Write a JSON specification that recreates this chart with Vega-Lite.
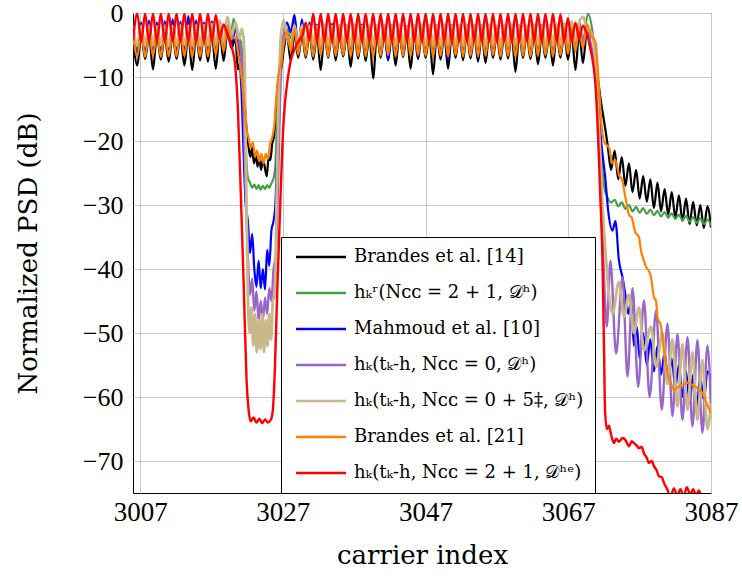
{
"$schema":"https://vega.github.io/schema/vega-lite/v6.json",
"width":578,"height":480,
"autosize":{"type":"none"},
"padding":{"left":133,"top":13,"right":31,"bottom":84},
"background":"white",
"config":{"view":{"stroke":"#000000","strokeWidth":1},"legend":{"labelFont":"DejaVu Serif","labelFontSize":18,"labelColor":"#000000"}},
"datasets":{
"a":[{"x":3006,"y":-3.8},{"x":3006.6,"y":-8.2},{"x":3007.15,"y":-3.5},{"x":3007.7,"y":-7.2},{"x":3008.25,"y":-3.6},{"x":3008.8,"y":-8.8},{"x":3009.35,"y":-3.5},{"x":3009.9,"y":-7.3},{"x":3010.45,"y":-3.6},{"x":3011,"y":-7.6},{"x":3011.55,"y":-3.5},{"x":3012.1,"y":-7.2},{"x":3012.65,"y":-3.6},{"x":3013.2,"y":-8.2},{"x":3013.75,"y":-3.5},{"x":3014.3,"y":-8.9},{"x":3014.85,"y":-3.5},{"x":3015.4,"y":-7.4},{"x":3015.95,"y":-3.4},{"x":3016.5,"y":-7.6},{"x":3017.05,"y":-3.3},{"x":3017.6,"y":-8.7},{"x":3018.15,"y":-3},{"x":3018.7,"y":-7.5},{"x":3019.25,"y":-2.8},{"x":3019.8,"y":-5.5},{"x":3020.35,"y":-4},{"x":3020.7,"y":-8.8},{"x":3021.1,"y":-7.5},{"x":3021.5,"y":-11},{"x":3021.9,"y":-18},{"x":3022.2,"y":-21},{"x":3022.45,"y":-22.5},{"x":3022.7,"y":-21},{"x":3022.95,"y":-23.5},{"x":3023.2,"y":-22},{"x":3023.45,"y":-24},{"x":3023.7,"y":-22.5},{"x":3023.95,"y":-24.5},{"x":3024.2,"y":-22.8},{"x":3024.45,"y":-24},{"x":3024.75,"y":-25.5},{"x":3025,"y":-22.5},{"x":3025.25,"y":-23},{"x":3025.5,"y":-20.5},{"x":3025.8,"y":-19},{"x":3026.1,"y":-14},{"x":3026.4,"y":-10},{"x":3026.8,"y":-8.5},{"x":3027.1,"y":-6},{"x":3027.58,"y":-3.5},{"x":3028.1,"y":-7.5},{"x":3028.63,"y":-3.2},{"x":3029.15,"y":-7},{"x":3029.68,"y":-3.3},{"x":3030.2,"y":-7},{"x":3030.73,"y":-3.3},{"x":3031.25,"y":-7.3},{"x":3031.78,"y":-3.4},{"x":3032.3,"y":-8.9},{"x":3032.83,"y":-3.3},{"x":3033.35,"y":-7},{"x":3033.88,"y":-3.2},{"x":3034.4,"y":-7.4},{"x":3034.93,"y":-3.4},{"x":3035.45,"y":-6.8},{"x":3035.98,"y":-3.3},{"x":3036.5,"y":-8.4},{"x":3037.03,"y":-3.5},{"x":3037.55,"y":-7.1},{"x":3038.08,"y":-3.3},{"x":3038.6,"y":-7.5},{"x":3039.13,"y":-3.4},{"x":3039.65,"y":-10.2},{"x":3040.18,"y":-3.3},{"x":3040.7,"y":-7},{"x":3041.23,"y":-3.2},{"x":3041.75,"y":-7.4},{"x":3042.28,"y":-3.4},{"x":3042.8,"y":-8.2},{"x":3043.33,"y":-3.3},{"x":3043.85,"y":-6.9},{"x":3044.38,"y":-3.4},{"x":3044.9,"y":-8.7},{"x":3045.43,"y":-3.3},{"x":3045.95,"y":-7.2},{"x":3046.48,"y":-3.2},{"x":3047,"y":-7},{"x":3047.53,"y":-3.4},{"x":3048.05,"y":-9.6},{"x":3048.58,"y":-3.3},{"x":3049.1,"y":-7.3},{"x":3049.63,"y":-3.4},{"x":3050.15,"y":-8.7},{"x":3050.68,"y":-3.3},{"x":3051.2,"y":-7},{"x":3051.73,"y":-3.2},{"x":3052.25,"y":-7.4},{"x":3052.78,"y":-3.3},{"x":3053.3,"y":-7.1},{"x":3053.83,"y":-3.4},{"x":3054.35,"y":-7.6},{"x":3054.88,"y":-3.3},{"x":3055.4,"y":-7.8},{"x":3055.93,"y":-3.2},{"x":3056.45,"y":-7},{"x":3056.98,"y":-3.4},{"x":3057.5,"y":-7.3},{"x":3058.03,"y":-3.3},{"x":3058.55,"y":-7.1},{"x":3059.08,"y":-3.4},{"x":3059.6,"y":-9.2},{"x":3060.13,"y":-3.3},{"x":3060.65,"y":-7},{"x":3061.18,"y":-3.2},{"x":3061.7,"y":-7.2},{"x":3062.23,"y":-3.3},{"x":3062.75,"y":-8},{"x":3063.28,"y":-3.4},{"x":3063.8,"y":-7},{"x":3064.33,"y":-3.3},{"x":3064.85,"y":-8.2},{"x":3065.38,"y":-3.2},{"x":3065.9,"y":-7},{"x":3066.43,"y":-3.3},{"x":3066.95,"y":-7.3},{"x":3067.48,"y":-3.2},{"x":3068,"y":-8.9},{"x":3068.53,"y":-3},{"x":3069.05,"y":-7.8},{"x":3069.6,"y":-3},{"x":3070.1,"y":-5.5},{"x":3070.6,"y":-7.5},{"x":3071.1,"y":-10},{"x":3071.6,"y":-14},{"x":3072.1,"y":-17.5},{"x":3072.5,"y":-20.5},{"x":3073,"y":-24.5},{"x":3073.5,"y":-21.5},{"x":3074,"y":-26},{"x":3074.5,"y":-22.5},{"x":3075,"y":-27},{"x":3075.5,"y":-23.5},{"x":3076,"y":-28},{"x":3076.5,"y":-24.5},{"x":3077,"y":-29},{"x":3077.5,"y":-25.5},{"x":3078,"y":-29.5},{"x":3078.5,"y":-26},{"x":3079,"y":-30.5},{"x":3079.5,"y":-26.5},{"x":3080,"y":-31},{"x":3080.5,"y":-27.5},{"x":3081,"y":-31.5},{"x":3081.5,"y":-28},{"x":3082,"y":-32},{"x":3082.5,"y":-28.5},{"x":3083,"y":-32.5},{"x":3083.5,"y":-29},{"x":3084,"y":-33},{"x":3084.5,"y":-29.5},{"x":3085,"y":-33.2},{"x":3085.5,"y":-30},{"x":3086,"y":-33.6},{"x":3086.5,"y":-30.2},{"x":3087,"y":-33.5}],
"b":[{"x":3006,"y":-2.8},{"x":3006.6,"y":-6},{"x":3007.15,"y":-2.5},{"x":3007.7,"y":-6.1},{"x":3008.25,"y":-2.5},{"x":3008.8,"y":-5.9},{"x":3009.35,"y":-2.6},{"x":3009.9,"y":-6},{"x":3010.45,"y":-2.5},{"x":3011,"y":-6.1},{"x":3011.55,"y":-2.5},{"x":3012.1,"y":-5.9},{"x":3012.65,"y":-2.4},{"x":3013.2,"y":-6},{"x":3013.75,"y":-2.5},{"x":3014.3,"y":-6.1},{"x":3014.85,"y":-2.4},{"x":3015.4,"y":-6},{"x":3015.95,"y":-2.3},{"x":3016.5,"y":-5.9},{"x":3017.05,"y":-2.2},{"x":3017.6,"y":-5.7},{"x":3018.15,"y":-2},{"x":3018.7,"y":-5},{"x":3019.25,"y":-1.8},{"x":3019.7,"y":-3.5},{"x":3020.1,"y":-0.9},{"x":3020.6,"y":-3.5},{"x":3021.1,"y":-4.5},{"x":3021.5,"y":-10},{"x":3021.85,"y":-22},{"x":3022.1,"y":-25.8},{"x":3022.4,"y":-26.5},{"x":3022.7,"y":-27.3},{"x":3023,"y":-26.8},{"x":3023.3,"y":-27.5},{"x":3023.6,"y":-26.9},{"x":3023.9,"y":-27.6},{"x":3024.2,"y":-27},{"x":3024.5,"y":-27.5},{"x":3024.8,"y":-26.9},{"x":3025.1,"y":-27.3},{"x":3025.4,"y":-26.6},{"x":3025.7,"y":-25.8},{"x":3025.95,"y":-24},{"x":3026.2,"y":-16},{"x":3026.5,"y":-9},{"x":3026.9,"y":-4.5},{"x":3027.2,"y":-3.5},{"x":3027.58,"y":-2.5},{"x":3028.1,"y":-4},{"x":3028.63,"y":-0.8},{"x":3029.15,"y":-5.5},{"x":3029.68,"y":-2},{"x":3030.2,"y":-6},{"x":3030.73,"y":-2.3},{"x":3031.25,"y":-6.1},{"x":3031.78,"y":-2.4},{"x":3032.3,"y":-5.9},{"x":3032.83,"y":-2.3},{"x":3033.35,"y":-6},{"x":3033.88,"y":-2.2},{"x":3034.4,"y":-6.1},{"x":3034.93,"y":-2.4},{"x":3035.45,"y":-6},{"x":3035.98,"y":-2.3},{"x":3036.5,"y":-5.9},{"x":3037.03,"y":-2.4},{"x":3037.55,"y":-6},{"x":3038.08,"y":-2.3},{"x":3038.6,"y":-6.1},{"x":3039.13,"y":-2.4},{"x":3039.65,"y":-6},{"x":3040.18,"y":-2.3},{"x":3040.7,"y":-5.9},{"x":3041.23,"y":-2.2},{"x":3041.75,"y":-6},{"x":3042.28,"y":-2.4},{"x":3042.8,"y":-6.1},{"x":3043.33,"y":-2.3},{"x":3043.85,"y":-6},{"x":3044.38,"y":-2.4},{"x":3044.9,"y":-5.9},{"x":3045.43,"y":-2.3},{"x":3045.95,"y":-6},{"x":3046.48,"y":-2.2},{"x":3047,"y":-6.1},{"x":3047.53,"y":-2.4},{"x":3048.05,"y":-6},{"x":3048.58,"y":-2.3},{"x":3049.1,"y":-5.9},{"x":3049.63,"y":-2.4},{"x":3050.15,"y":-6},{"x":3050.68,"y":-2.3},{"x":3051.2,"y":-6.1},{"x":3051.73,"y":-2.2},{"x":3052.25,"y":-6},{"x":3052.78,"y":-2.3},{"x":3053.3,"y":-5.9},{"x":3053.83,"y":-2.4},{"x":3054.35,"y":-6},{"x":3054.88,"y":-2.3},{"x":3055.4,"y":-6.1},{"x":3055.93,"y":-2.2},{"x":3056.45,"y":-6},{"x":3056.98,"y":-2.4},{"x":3057.5,"y":-5.9},{"x":3058.03,"y":-2.3},{"x":3058.55,"y":-6},{"x":3059.08,"y":-2.4},{"x":3059.6,"y":-6.1},{"x":3060.13,"y":-2.3},{"x":3060.65,"y":-6},{"x":3061.18,"y":-2.2},{"x":3061.7,"y":-5.9},{"x":3062.23,"y":-2.3},{"x":3062.75,"y":-6},{"x":3063.28,"y":-2.4},{"x":3063.8,"y":-6.1},{"x":3064.33,"y":-2.3},{"x":3064.85,"y":-6},{"x":3065.38,"y":-2.2},{"x":3065.9,"y":-5.9},{"x":3066.43,"y":-2.1},{"x":3066.95,"y":-5.8},{"x":3067.48,"y":-1.9},{"x":3068,"y":-5.5},{"x":3068.53,"y":-1.5},{"x":3069.05,"y":-4.5},{"x":3069.75,"y":-0.1},{"x":3070.4,"y":-3},{"x":3071,"y":-10},{"x":3071.5,"y":-20},{"x":3072,"y":-27},{"x":3072.5,"y":-28.8},{"x":3073,"y":-29.6},{"x":3073.5,"y":-29.2},{"x":3074,"y":-30.2},{"x":3074.5,"y":-29.6},{"x":3075,"y":-30.6},{"x":3075.5,"y":-30},{"x":3076,"y":-31},{"x":3076.5,"y":-30.3},{"x":3077,"y":-31.2},{"x":3077.5,"y":-30.5},{"x":3078,"y":-31.4},{"x":3078.5,"y":-30.7},{"x":3079,"y":-31.6},{"x":3079.5,"y":-30.9},{"x":3080,"y":-31.8},{"x":3080.5,"y":-31.1},{"x":3081,"y":-32},{"x":3081.5,"y":-31.3},{"x":3082,"y":-32.2},{"x":3082.5,"y":-31.5},{"x":3083,"y":-32.4},{"x":3083.5,"y":-31.7},{"x":3084,"y":-32.6},{"x":3084.5,"y":-31.9},{"x":3085,"y":-32.8},{"x":3085.5,"y":-32.1},{"x":3086,"y":-33},{"x":3086.5,"y":-32.3},{"x":3087,"y":-33.2}],
"c":[{"x":3006,"y":-1.8},{"x":3006.6,"y":-6.5},{"x":3007.15,"y":-1.5},{"x":3007.7,"y":-6.4},{"x":3008.25,"y":-1.2},{"x":3008.8,"y":-6.6},{"x":3009.35,"y":-1.5},{"x":3009.9,"y":-6.5},{"x":3010.45,"y":-1.3},{"x":3011,"y":-6.2},{"x":3011.55,"y":-1},{"x":3012.1,"y":-6.5},{"x":3012.65,"y":-1.4},{"x":3013.2,"y":-6.4},{"x":3013.75,"y":-0.5},{"x":3014.3,"y":-6.6},{"x":3014.85,"y":-1.2},{"x":3015.4,"y":-6.5},{"x":3015.95,"y":-1.5},{"x":3016.5,"y":-6.3},{"x":3017.05,"y":-1.3},{"x":3017.6,"y":-6.2},{"x":3018.15,"y":-1.5},{"x":3018.7,"y":-5.5},{"x":3019.25,"y":-1.2},{"x":3019.8,"y":-5},{"x":3020.35,"y":-2.5},{"x":3020.85,"y":-6},{"x":3021.2,"y":-12},{"x":3021.5,"y":-22},{"x":3021.8,"y":-30},{"x":3022.1,"y":-32.5},{"x":3022.4,"y":-37.5},{"x":3022.7,"y":-34.5},{"x":3023,"y":-40},{"x":3023.3,"y":-42.8},{"x":3023.6,"y":-38.7},{"x":3023.9,"y":-43},{"x":3024.2,"y":-40},{"x":3024.5,"y":-43.2},{"x":3024.8,"y":-37},{"x":3025.1,"y":-39.5},{"x":3025.4,"y":-34},{"x":3025.7,"y":-32.5},{"x":3025.95,"y":-30},{"x":3026.3,"y":-18},{"x":3026.6,"y":-10},{"x":3027,"y":-5},{"x":3027.58,"y":-1.5},{"x":3028.1,"y":-3},{"x":3028.63,"y":-0.3},{"x":3029.15,"y":-5.5},{"x":3029.68,"y":-1},{"x":3030.2,"y":-6.5},{"x":3030.73,"y":-1.5},{"x":3031.25,"y":-6.6},{"x":3031.78,"y":-1.8},{"x":3032.3,"y":-6.4},{"x":3032.83,"y":-2},{"x":3033.35,"y":-6.7},{"x":3033.88,"y":-1.7},{"x":3034.4,"y":-6.5},{"x":3034.93,"y":-2.2},{"x":3035.45,"y":-6.6},{"x":3035.98,"y":-1.9},{"x":3036.5,"y":-6.4},{"x":3037.03,"y":-2.3},{"x":3037.55,"y":-6.8},{"x":3038.08,"y":-1.8},{"x":3038.6,"y":-6.5},{"x":3039.13,"y":-2.1},{"x":3039.65,"y":-6.7},{"x":3040.18,"y":-1.9},{"x":3040.7,"y":-6.6},{"x":3041.23,"y":-2.4},{"x":3041.75,"y":-7.3},{"x":3042.28,"y":-1.9},{"x":3042.8,"y":-6.5},{"x":3043.33,"y":-2.2},{"x":3043.85,"y":-6.6},{"x":3044.38,"y":-2},{"x":3044.9,"y":-6.4},{"x":3045.43,"y":-2.3},{"x":3045.95,"y":-6.8},{"x":3046.48,"y":-1.8},{"x":3047,"y":-6.5},{"x":3047.53,"y":-2.1},{"x":3048.05,"y":-6.7},{"x":3048.58,"y":-1.9},{"x":3049.1,"y":-6.6},{"x":3049.63,"y":-2.2},{"x":3050.15,"y":-7.2},{"x":3050.68,"y":-1.9},{"x":3051.2,"y":-6.5},{"x":3051.73,"y":-2.3},{"x":3052.25,"y":-6.7},{"x":3052.78,"y":-1.8},{"x":3053.3,"y":-6.4},{"x":3053.83,"y":-2.1},{"x":3054.35,"y":-7},{"x":3054.88,"y":-1.9},{"x":3055.4,"y":-6.6},{"x":3055.93,"y":-2.2},{"x":3056.45,"y":-6.5},{"x":3056.98,"y":-2},{"x":3057.5,"y":-6.8},{"x":3058.03,"y":-2.3},{"x":3058.55,"y":-6.5},{"x":3059.08,"y":-1.8},{"x":3059.6,"y":-6.6},{"x":3060.13,"y":-2.2},{"x":3060.65,"y":-6.4},{"x":3061.18,"y":-2},{"x":3061.7,"y":-6.7},{"x":3062.23,"y":-2.3},{"x":3062.75,"y":-6.5},{"x":3063.28,"y":-1.9},{"x":3063.8,"y":-6.6},{"x":3064.33,"y":-2.1},{"x":3064.85,"y":-6.8},{"x":3065.38,"y":-1.9},{"x":3065.9,"y":-6.5},{"x":3066.43,"y":-1.8},{"x":3066.95,"y":-6.3},{"x":3067.48,"y":-1.6},{"x":3068,"y":-6},{"x":3068.53,"y":-1.5},{"x":3069.05,"y":-5.5},{"x":3069.6,"y":-2},{"x":3070.1,"y":-5},{"x":3070.6,"y":-8},{"x":3071.1,"y":-13},{"x":3071.6,"y":-20},{"x":3072.2,"y":-26},{"x":3072.6,"y":-31},{"x":3073.2,"y":-34},{"x":3073.6,"y":-32.5},{"x":3074.1,"y":-38.7},{"x":3074.6,"y":-41.3},{"x":3075,"y":-44},{"x":3075.4,"y":-47},{"x":3075.8,"y":-45},{"x":3076.2,"y":-52},{"x":3076.6,"y":-49},{"x":3077,"y":-54},{"x":3077.5,"y":-50},{"x":3078,"y":-55},{"x":3078.5,"y":-51},{"x":3079,"y":-56},{"x":3079.5,"y":-52},{"x":3080,"y":-56.5},{"x":3080.5,"y":-53},{"x":3081,"y":-57.5},{"x":3081.5,"y":-54},{"x":3082,"y":-58.5},{"x":3082.5,"y":-55},{"x":3083,"y":-60},{"x":3083.5,"y":-56},{"x":3084,"y":-61},{"x":3084.5,"y":-56.5},{"x":3085,"y":-61.5},{"x":3085.5,"y":-57},{"x":3086,"y":-60.5},{"x":3086.5,"y":-56},{"x":3087,"y":-57}],
"d":[{"x":3006,"y":-2},{"x":3006.6,"y":-5.2},{"x":3007.15,"y":-1.9},{"x":3007.7,"y":-5.3},{"x":3008.25,"y":-1.8},{"x":3008.8,"y":-5.2},{"x":3009.35,"y":-2},{"x":3009.9,"y":-5.1},{"x":3010.45,"y":-1.8},{"x":3011,"y":-5.3},{"x":3011.55,"y":-1.9},{"x":3012.1,"y":-5.2},{"x":3012.65,"y":-1.8},{"x":3013.2,"y":-5.1},{"x":3013.75,"y":-1.9},{"x":3014.3,"y":-5.3},{"x":3014.85,"y":-1.8},{"x":3015.4,"y":-5.2},{"x":3015.95,"y":-1.9},{"x":3016.5,"y":-5.1},{"x":3017.05,"y":-1.7},{"x":3017.6,"y":-5.2},{"x":3018.15,"y":-1.5},{"x":3018.7,"y":-5},{"x":3019.25,"y":-1},{"x":3019.8,"y":-4},{"x":3020.35,"y":-1.5},{"x":3020.85,"y":-4.5},{"x":3021.2,"y":-7},{"x":3021.5,"y":-15},{"x":3021.8,"y":-28},{"x":3022.1,"y":-38},{"x":3022.4,"y":-44},{"x":3022.7,"y":-41.5},{"x":3023,"y":-46.5},{"x":3023.3,"y":-43.5},{"x":3023.6,"y":-48},{"x":3023.9,"y":-45},{"x":3024.2,"y":-48},{"x":3024.5,"y":-44.5},{"x":3024.8,"y":-47},{"x":3025.1,"y":-43},{"x":3025.4,"y":-45},{"x":3025.7,"y":-40},{"x":3026,"y":-38},{"x":3026.3,"y":-28},{"x":3026.6,"y":-14},{"x":3026.9,"y":-6},{"x":3027.3,"y":-2.2},{"x":3027.8,"y":-4.5},{"x":3028.1,"y":-5},{"x":3028.63,"y":-1.8},{"x":3029.15,"y":-5.3},{"x":3029.68,"y":-1.8},{"x":3030.2,"y":-5.3},{"x":3030.73,"y":-1.9},{"x":3031.25,"y":-5.2},{"x":3031.78,"y":-2},{"x":3032.3,"y":-5.4},{"x":3032.83,"y":-1.8},{"x":3033.35,"y":-5.3},{"x":3033.88,"y":-2.1},{"x":3034.4,"y":-5.2},{"x":3034.93,"y":-1.9},{"x":3035.45,"y":-5.4},{"x":3035.98,"y":-2},{"x":3036.5,"y":-5.3},{"x":3037.03,"y":-1.8},{"x":3037.55,"y":-5.2},{"x":3038.08,"y":-2},{"x":3038.6,"y":-5.4},{"x":3039.13,"y":-1.9},{"x":3039.65,"y":-5.3},{"x":3040.18,"y":-2.1},{"x":3040.7,"y":-5.2},{"x":3041.23,"y":-1.9},{"x":3041.75,"y":-5.4},{"x":3042.28,"y":-2},{"x":3042.8,"y":-5.3},{"x":3043.33,"y":-1.8},{"x":3043.85,"y":-5.2},{"x":3044.38,"y":-2},{"x":3044.9,"y":-5.4},{"x":3045.43,"y":-1.9},{"x":3045.95,"y":-5.3},{"x":3046.48,"y":-2.1},{"x":3047,"y":-5.2},{"x":3047.53,"y":-1.9},{"x":3048.05,"y":-5.4},{"x":3048.58,"y":-2},{"x":3049.1,"y":-5.3},{"x":3049.63,"y":-1.8},{"x":3050.15,"y":-5.2},{"x":3050.68,"y":-2},{"x":3051.2,"y":-5.4},{"x":3051.73,"y":-1.9},{"x":3052.25,"y":-5.3},{"x":3052.78,"y":-2.1},{"x":3053.3,"y":-5.2},{"x":3053.83,"y":-1.9},{"x":3054.35,"y":-5.4},{"x":3054.88,"y":-2},{"x":3055.4,"y":-5.3},{"x":3055.93,"y":-1.8},{"x":3056.45,"y":-5.2},{"x":3056.98,"y":-2},{"x":3057.5,"y":-5.4},{"x":3058.03,"y":-1.9},{"x":3058.55,"y":-5.3},{"x":3059.08,"y":-2.1},{"x":3059.6,"y":-5.2},{"x":3060.13,"y":-1.9},{"x":3060.65,"y":-5.4},{"x":3061.18,"y":-2},{"x":3061.7,"y":-5.3},{"x":3062.23,"y":-1.8},{"x":3062.75,"y":-5.2},{"x":3063.28,"y":-2},{"x":3063.8,"y":-5.4},{"x":3064.33,"y":-1.9},{"x":3064.85,"y":-5.3},{"x":3065.38,"y":-1.8},{"x":3065.9,"y":-5.2},{"x":3066.43,"y":-1.7},{"x":3066.95,"y":-5.2},{"x":3067.48,"y":-1.6},{"x":3068,"y":-5.1},{"x":3068.53,"y":-1.5},{"x":3069.05,"y":-5},{"x":3069.6,"y":-1.8},{"x":3070.1,"y":-4.5},{"x":3070.6,"y":-8},{"x":3071.1,"y":-15},{"x":3071.5,"y":-25},{"x":3071.8,"y":-35},{"x":3072.1,"y":-44},{"x":3072.4,"y":-49},{"x":3072.9,"y":-38.7},{"x":3073.7,"y":-53.2},{"x":3074.6,"y":-41.3},{"x":3075.3,"y":-56.8},{"x":3076,"y":-43},{"x":3076.8,"y":-58.4},{"x":3077.6,"y":-44.9},{"x":3078.4,"y":-60},{"x":3079.3,"y":-46.5},{"x":3080.1,"y":-62},{"x":3080.9,"y":-48.5},{"x":3081.6,"y":-63},{"x":3082.3,"y":-50.1},{"x":3083,"y":-63.6},{"x":3083.7,"y":-50.6},{"x":3084.4,"y":-64.6},{"x":3085.1,"y":-51.1},{"x":3085.8,"y":-65.6},{"x":3086.5,"y":-52},{"x":3087,"y":-62}],
"e":[{"x":3006,"y":-2.2},{"x":3006.6,"y":-5},{"x":3007.15,"y":-2.1},{"x":3007.7,"y":-5},{"x":3008.25,"y":-2.2},{"x":3008.8,"y":-4.9},{"x":3009.35,"y":-2.1},{"x":3009.9,"y":-5},{"x":3010.45,"y":-2.2},{"x":3011,"y":-5.1},{"x":3011.55,"y":-2.1},{"x":3012.1,"y":-5},{"x":3012.65,"y":-2},{"x":3013.2,"y":-4.9},{"x":3013.75,"y":-2.1},{"x":3014.3,"y":-5},{"x":3014.85,"y":-2},{"x":3015.4,"y":-5.1},{"x":3015.95,"y":-1.9},{"x":3016.5,"y":-5},{"x":3017.05,"y":-1.7},{"x":3017.6,"y":-4.8},{"x":3018.15,"y":-1.2},{"x":3018.7,"y":-4.5},{"x":3019.25,"y":-0.6},{"x":3019.8,"y":-3.5},{"x":3020.35,"y":-1.5},{"x":3020.85,"y":-4},{"x":3021.25,"y":-2.5},{"x":3021.6,"y":-6},{"x":3021.85,"y":-25},{"x":3022.1,"y":-44},{"x":3022.35,"y":-50},{"x":3022.6,"y":-46},{"x":3022.85,"y":-52},{"x":3023.1,"y":-47},{"x":3023.35,"y":-53},{"x":3023.6,"y":-48},{"x":3023.85,"y":-52.5},{"x":3024.1,"y":-47},{"x":3024.35,"y":-53},{"x":3024.6,"y":-48},{"x":3024.85,"y":-52},{"x":3025.1,"y":-47},{"x":3025.35,"y":-51},{"x":3025.6,"y":-45},{"x":3025.9,"y":-44},{"x":3026.1,"y":-30},{"x":3026.4,"y":-14},{"x":3026.7,"y":-4},{"x":3027.1,"y":-1.1},{"x":3027.58,"y":-3.5},{"x":3028.1,"y":-5},{"x":3028.63,"y":-2},{"x":3029.15,"y":-5},{"x":3029.68,"y":-2},{"x":3030.2,"y":-5},{"x":3030.73,"y":-2},{"x":3031.25,"y":-4.9},{"x":3031.78,"y":-2.1},{"x":3032.3,"y":-5.1},{"x":3032.83,"y":-1.9},{"x":3033.35,"y":-5},{"x":3033.88,"y":-2},{"x":3034.4,"y":-4.9},{"x":3034.93,"y":-2.1},{"x":3035.45,"y":-5.1},{"x":3035.98,"y":-2},{"x":3036.5,"y":-5},{"x":3037.03,"y":-1.9},{"x":3037.55,"y":-4.9},{"x":3038.08,"y":-2.1},{"x":3038.6,"y":-5.1},{"x":3039.13,"y":-2},{"x":3039.65,"y":-5},{"x":3040.18,"y":-1.9},{"x":3040.7,"y":-4.9},{"x":3041.23,"y":-2.1},{"x":3041.75,"y":-5.1},{"x":3042.28,"y":-2},{"x":3042.8,"y":-5},{"x":3043.33,"y":-1.9},{"x":3043.85,"y":-4.9},{"x":3044.38,"y":-2.1},{"x":3044.9,"y":-5.1},{"x":3045.43,"y":-2},{"x":3045.95,"y":-5},{"x":3046.48,"y":-1.9},{"x":3047,"y":-4.9},{"x":3047.53,"y":-2.1},{"x":3048.05,"y":-5.1},{"x":3048.58,"y":-2},{"x":3049.1,"y":-5},{"x":3049.63,"y":-1.9},{"x":3050.15,"y":-4.9},{"x":3050.68,"y":-2.1},{"x":3051.2,"y":-5.1},{"x":3051.73,"y":-2},{"x":3052.25,"y":-5},{"x":3052.78,"y":-1.9},{"x":3053.3,"y":-4.9},{"x":3053.83,"y":-2.1},{"x":3054.35,"y":-5.1},{"x":3054.88,"y":-2},{"x":3055.4,"y":-5},{"x":3055.93,"y":-1.9},{"x":3056.45,"y":-4.9},{"x":3056.98,"y":-2.1},{"x":3057.5,"y":-5.1},{"x":3058.03,"y":-2},{"x":3058.55,"y":-5},{"x":3059.08,"y":-1.9},{"x":3059.6,"y":-4.9},{"x":3060.13,"y":-2.1},{"x":3060.65,"y":-5.1},{"x":3061.18,"y":-2},{"x":3061.7,"y":-5},{"x":3062.23,"y":-1.9},{"x":3062.75,"y":-4.9},{"x":3063.28,"y":-2.1},{"x":3063.8,"y":-5.1},{"x":3064.33,"y":-2},{"x":3064.85,"y":-5},{"x":3065.38,"y":-1.8},{"x":3065.9,"y":-4.8},{"x":3066.43,"y":-1.6},{"x":3066.95,"y":-4.6},{"x":3067.48,"y":-1.3},{"x":3068,"y":-4.3},{"x":3068.6,"y":-1.2},{"x":3069.1,"y":-0.6},{"x":3069.6,"y":-2.5},{"x":3070.2,"y":-3},{"x":3070.7,"y":-6},{"x":3071,"y":-11.5},{"x":3071.4,"y":-20},{"x":3071.8,"y":-30},{"x":3072.2,"y":-37},{"x":3072.7,"y":-44},{"x":3073.2,"y":-47},{"x":3074.1,"y":-42},{"x":3074.8,"y":-47.5},{"x":3075.5,"y":-44},{"x":3076.2,"y":-50},{"x":3076.9,"y":-46},{"x":3077.6,"y":-52.7},{"x":3078.6,"y":-49},{"x":3079.3,"y":-55.3},{"x":3080.2,"y":-50},{"x":3080.9,"y":-58},{"x":3081.6,"y":-51},{"x":3082.3,"y":-61.5},{"x":3083,"y":-51.7},{"x":3083.7,"y":-62},{"x":3084.4,"y":-53},{"x":3085.1,"y":-63.6},{"x":3085.8,"y":-54.2},{"x":3086.5,"y":-65},{"x":3087,"y":-61}],
"f":[{"x":3006,"y":-3.2},{"x":3006.6,"y":-6.8},{"x":3007.15,"y":-3},{"x":3007.7,"y":-6.9},{"x":3008.25,"y":-3.1},{"x":3008.8,"y":-6.7},{"x":3009.35,"y":-3},{"x":3009.9,"y":-6.9},{"x":3010.45,"y":-3},{"x":3011,"y":-6.8},{"x":3011.55,"y":-3.1},{"x":3012.1,"y":-6.8},{"x":3012.65,"y":-3},{"x":3013.2,"y":-6.7},{"x":3013.75,"y":-3},{"x":3014.3,"y":-6.9},{"x":3014.85,"y":-3},{"x":3015.4,"y":-6.8},{"x":3015.95,"y":-2.9},{"x":3016.5,"y":-6.8},{"x":3017.05,"y":-2.8},{"x":3017.6,"y":-6.5},{"x":3018.15,"y":-2.5},{"x":3018.7,"y":-6},{"x":3019.25,"y":-2.2},{"x":3019.8,"y":-4},{"x":3020.3,"y":-3.8},{"x":3020.7,"y":-6},{"x":3021.1,"y":-9},{"x":3021.5,"y":-13},{"x":3021.9,"y":-18},{"x":3022.2,"y":-19.5},{"x":3022.5,"y":-21},{"x":3022.8,"y":-20.2},{"x":3023.1,"y":-22.5},{"x":3023.4,"y":-21.5},{"x":3023.7,"y":-23.2},{"x":3024,"y":-22},{"x":3024.3,"y":-23.5},{"x":3024.6,"y":-22},{"x":3024.9,"y":-22.8},{"x":3025.2,"y":-20.5},{"x":3025.5,"y":-19.5},{"x":3025.8,"y":-17.5},{"x":3026.1,"y":-13},{"x":3026.4,"y":-9.5},{"x":3026.8,"y":-7.5},{"x":3027.1,"y":-5},{"x":3027.58,"y":-2.8},{"x":3028.1,"y":-6},{"x":3028.63,"y":-2.5},{"x":3029.15,"y":-6.5},{"x":3029.68,"y":-2.5},{"x":3030.2,"y":-6.7},{"x":3030.73,"y":-2.6},{"x":3031.25,"y":-6.8},{"x":3031.78,"y":-2.5},{"x":3032.3,"y":-6.6},{"x":3032.83,"y":-2.7},{"x":3033.35,"y":-6.8},{"x":3033.88,"y":-2.6},{"x":3034.4,"y":-6.7},{"x":3034.93,"y":-2.5},{"x":3035.45,"y":-6.6},{"x":3035.98,"y":-2.7},{"x":3036.5,"y":-6.8},{"x":3037.03,"y":-2.6},{"x":3037.55,"y":-6.7},{"x":3038.08,"y":-2.5},{"x":3038.6,"y":-6.8},{"x":3039.13,"y":-2.6},{"x":3039.65,"y":-6.9},{"x":3040.18,"y":-2.7},{"x":3040.7,"y":-6.7},{"x":3041.23,"y":-2.5},{"x":3041.75,"y":-6.6},{"x":3042.28,"y":-2.6},{"x":3042.8,"y":-6.8},{"x":3043.33,"y":-2.7},{"x":3043.85,"y":-6.7},{"x":3044.38,"y":-2.5},{"x":3044.9,"y":-6.8},{"x":3045.43,"y":-2.6},{"x":3045.95,"y":-6.6},{"x":3046.48,"y":-2.7},{"x":3047,"y":-6.7},{"x":3047.53,"y":-2.5},{"x":3048.05,"y":-6.9},{"x":3048.58,"y":-2.6},{"x":3049.1,"y":-6.7},{"x":3049.63,"y":-2.7},{"x":3050.15,"y":-6.8},{"x":3050.68,"y":-2.5},{"x":3051.2,"y":-6.6},{"x":3051.73,"y":-2.6},{"x":3052.25,"y":-6.8},{"x":3052.78,"y":-2.7},{"x":3053.3,"y":-6.7},{"x":3053.83,"y":-2.5},{"x":3054.35,"y":-6.8},{"x":3054.88,"y":-2.6},{"x":3055.4,"y":-6.7},{"x":3055.93,"y":-2.7},{"x":3056.45,"y":-6.6},{"x":3056.98,"y":-2.5},{"x":3057.5,"y":-6.8},{"x":3058.03,"y":-2.6},{"x":3058.55,"y":-6.7},{"x":3059.08,"y":-2.7},{"x":3059.6,"y":-6.9},{"x":3060.13,"y":-2.5},{"x":3060.65,"y":-6.7},{"x":3061.18,"y":-2.6},{"x":3061.7,"y":-6.8},{"x":3062.23,"y":-2.7},{"x":3062.75,"y":-6.7},{"x":3063.28,"y":-2.5},{"x":3063.8,"y":-6.6},{"x":3064.33,"y":-2.6},{"x":3064.85,"y":-6.8},{"x":3065.38,"y":-2.5},{"x":3065.9,"y":-6.6},{"x":3066.43,"y":-2.4},{"x":3066.95,"y":-6.4},{"x":3067.48,"y":-2.3},{"x":3068,"y":-6},{"x":3068.53,"y":-2.2},{"x":3069.05,"y":-5.5},{"x":3069.6,"y":-1.7},{"x":3070.2,"y":-3.5},{"x":3070.8,"y":-4.5},{"x":3071.3,"y":-11.5},{"x":3071.7,"y":-18},{"x":3072.1,"y":-20.3},{"x":3072.7,"y":-21},{"x":3073.2,"y":-23.5},{"x":3073.6,"y":-23},{"x":3074.1,"y":-25.3},{"x":3074.6,"y":-26.3},{"x":3075,"y":-28.8},{"x":3075.5,"y":-31.5},{"x":3075.9,"y":-32},{"x":3076.4,"y":-34.3},{"x":3076.9,"y":-35},{"x":3077.2,"y":-37.2},{"x":3077.6,"y":-38.7},{"x":3077.9,"y":-39.7},{"x":3078.3,"y":-40.3},{"x":3078.6,"y":-41.3},{"x":3079,"y":-44.4},{"x":3079.3,"y":-45},{"x":3079.5,"y":-47.5},{"x":3080,"y":-49},{"x":3080.4,"y":-52.7},{"x":3080.9,"y":-56.3},{"x":3081.4,"y":-57.9},{"x":3081.8,"y":-58.9},{"x":3082.4,"y":-58.4},{"x":3083,"y":-58.1},{"x":3083.7,"y":-57.8},{"x":3084.4,"y":-58.1},{"x":3085.1,"y":-58.6},{"x":3085.8,"y":-59.4},{"x":3086.4,"y":-61},{"x":3087,"y":-62.5}],
"g":[{"x":3006,"y":-4.3},{"x":3006.6,"y":-0.1},{"x":3007.15,"y":-4.5},{"x":3007.7,"y":-0.1},{"x":3008.25,"y":-4.5},{"x":3008.8,"y":-0.1},{"x":3009.35,"y":-4.5},{"x":3009.9,"y":-0.1},{"x":3010.45,"y":-4.5},{"x":3011,"y":-0.1},{"x":3011.55,"y":-4.5},{"x":3012.1,"y":-0.1},{"x":3012.65,"y":-4.5},{"x":3013.2,"y":-0.1},{"x":3013.75,"y":-4.5},{"x":3014.3,"y":-0.1},{"x":3014.85,"y":-4.5},{"x":3015.4,"y":-0.1},{"x":3015.95,"y":-4.5},{"x":3016.5,"y":-0.1},{"x":3017.05,"y":-4.4},{"x":3017.6,"y":-0.3},{"x":3018.15,"y":-4},{"x":3018.7,"y":-1.8},{"x":3019.25,"y":-3.5},{"x":3019.8,"y":-5.2},{"x":3020.3,"y":-8},{"x":3020.7,"y":-15},{"x":3021.1,"y":-28},{"x":3021.5,"y":-42},{"x":3021.9,"y":-57},{"x":3022.2,"y":-62},{"x":3022.5,"y":-63.8},{"x":3022.9,"y":-63.2},{"x":3023.3,"y":-64},{"x":3023.7,"y":-63.4},{"x":3024.1,"y":-64.1},{"x":3024.5,"y":-63.5},{"x":3024.9,"y":-64},{"x":3025.3,"y":-63.6},{"x":3025.6,"y":-62},{"x":3025.9,"y":-55},{"x":3026.2,"y":-44},{"x":3026.6,"y":-31},{"x":3027,"y":-19},{"x":3027.3,"y":-14},{"x":3027.6,"y":-11},{"x":3028.1,"y":-7.5},{"x":3028.7,"y":-5.5},{"x":3029.3,"y":-4.2},{"x":3029.8,"y":-3.3},{"x":3030.2,"y":-1.5},{"x":3030.73,"y":-4.3},{"x":3031.25,"y":-0.1},{"x":3031.78,"y":-4.5},{"x":3032.3,"y":-0.1},{"x":3032.83,"y":-4.5},{"x":3033.35,"y":-0.1},{"x":3033.88,"y":-4.5},{"x":3034.4,"y":-0.1},{"x":3034.93,"y":-4.5},{"x":3035.45,"y":-0.1},{"x":3035.98,"y":-4.5},{"x":3036.5,"y":-0.1},{"x":3037.03,"y":-4.5},{"x":3037.55,"y":-0.1},{"x":3038.08,"y":-4.5},{"x":3038.6,"y":-0.1},{"x":3039.13,"y":-4.5},{"x":3039.65,"y":-0.1},{"x":3040.18,"y":-4.5},{"x":3040.7,"y":-0.1},{"x":3041.23,"y":-4.5},{"x":3041.75,"y":-0.1},{"x":3042.28,"y":-4.5},{"x":3042.8,"y":-0.1},{"x":3043.33,"y":-4.5},{"x":3043.85,"y":-0.1},{"x":3044.38,"y":-4.5},{"x":3044.9,"y":-0.1},{"x":3045.43,"y":-4.5},{"x":3045.95,"y":-0.1},{"x":3046.48,"y":-4.5},{"x":3047,"y":-0.1},{"x":3047.53,"y":-4.5},{"x":3048.05,"y":-0.1},{"x":3048.58,"y":-4.5},{"x":3049.1,"y":-0.1},{"x":3049.63,"y":-4.5},{"x":3050.15,"y":-0.1},{"x":3050.68,"y":-4.5},{"x":3051.2,"y":-0.1},{"x":3051.73,"y":-4.5},{"x":3052.25,"y":-0.1},{"x":3052.78,"y":-4.5},{"x":3053.3,"y":-0.1},{"x":3053.83,"y":-4.5},{"x":3054.35,"y":-0.1},{"x":3054.88,"y":-4.5},{"x":3055.4,"y":-0.1},{"x":3055.93,"y":-4.5},{"x":3056.45,"y":-0.1},{"x":3056.98,"y":-4.5},{"x":3057.5,"y":-0.1},{"x":3058.03,"y":-4.5},{"x":3058.55,"y":-0.1},{"x":3059.08,"y":-4.5},{"x":3059.6,"y":-0.1},{"x":3060.13,"y":-4.5},{"x":3060.65,"y":-0.1},{"x":3061.18,"y":-4.5},{"x":3061.7,"y":-0.1},{"x":3062.23,"y":-4.5},{"x":3062.75,"y":-0.1},{"x":3063.28,"y":-4.5},{"x":3063.8,"y":-0.1},{"x":3064.33,"y":-4.5},{"x":3064.85,"y":-0.1},{"x":3065.38,"y":-4.5},{"x":3065.9,"y":-0.2},{"x":3066.43,"y":-4.5},{"x":3066.95,"y":-0.8},{"x":3067.48,"y":-4.5},{"x":3068,"y":-1.5},{"x":3068.53,"y":-4},{"x":3069.05,"y":-2},{"x":3069.6,"y":-3.2},{"x":3070.1,"y":-5.5},{"x":3070.5,"y":-8},{"x":3070.8,"y":-11},{"x":3071.2,"y":-20},{"x":3071.5,"y":-29},{"x":3071.8,"y":-39},{"x":3072,"y":-52},{"x":3072.15,"y":-62},{"x":3072.4,"y":-65},{"x":3072.7,"y":-64.5},{"x":3072.9,"y":-65.4},{"x":3073.4,"y":-67.2},{"x":3073.7,"y":-66.5},{"x":3074.1,"y":-67},{"x":3074.6,"y":-66.4},{"x":3075,"y":-66.7},{"x":3075.5,"y":-67.7},{"x":3075.9,"y":-66.9},{"x":3076.2,"y":-67.2},{"x":3076.6,"y":-67.6},{"x":3076.9,"y":-68},{"x":3077.3,"y":-67.8},{"x":3077.6,"y":-68.8},{"x":3078,"y":-69.5},{"x":3078.3,"y":-70.3},{"x":3078.7,"y":-70},{"x":3079,"y":-70.8},{"x":3079.4,"y":-71.5},{"x":3079.7,"y":-72.4},{"x":3080.1,"y":-72.5},{"x":3080.4,"y":-73.4},{"x":3080.9,"y":-74.5},{"x":3081.3,"y":-75.6},{"x":3081.8,"y":-74.3},{"x":3082.3,"y":-75.4},{"x":3082.7,"y":-74.4},{"x":3083.2,"y":-75.5},{"x":3083.6,"y":-74.1},{"x":3084.1,"y":-75.2},{"x":3084.5,"y":-74.4},{"x":3084.9,"y":-75.4},{"x":3085.3,"y":-74.6},{"x":3085.7,"y":-75.8},{"x":3086.3,"y":-77},{"x":3087,"y":-78}]
},
"encoding":{
"x":{"field":"x","type":"quantitative","scale":{"domain":[3006,3087],"nice":false,"zero":false},
"axis":{"values":[3007,3027,3047,3067,3087],"format":"d","title":"carrier index","grid":true,"gridColor":"#c8c8c8","gridWidth":1,"domain":false,"ticks":false,"labelFont":"Liberation Serif","labelFontSize":27,"labelColor":"#000000","labelPadding":6,"labelFlush":false,"labelOverlap":false,"labelBound":false,"titleFont":"DejaVu Serif","titleFontSize":26,"titleFontWeight":"normal","titleColor":"#000000","titleY":70,"titleBaseline":"alphabetic"}},
"y":{"field":"y","type":"quantitative","scale":{"domain":[-75,0],"nice":false,"zero":false},
"axis":{"values":[0,-10,-20,-30,-40,-50,-60,-70],"title":"Normalized PSD (dB)","grid":true,"gridColor":"#c8c8c8","gridWidth":1,"domain":false,"ticks":false,"labelFont":"Liberation Serif","labelFontSize":26,"labelColor":"#000000","labelPadding":10,"labelOverlap":false,"labelBound":false,"labelFlush":false,"titleFont":"DejaVu Serif","titleFontSize":26,"titleFontWeight":"normal","titleColor":"#000000","titleX":-105,"titleY":240,"titleAngle":-90,"titleAlign":"center","titleBaseline":"middle"}}
},
"layer":[
{"data":{"name":"a"},"mark":{"type":"line","interpolate":"monotone","strokeWidth":2.2,"clip":true},"encoding":{"color":{"datum":"Brandes et al. [14]","type":"nominal","scale":{"domain":["Brandes et al. [14]","hₖʳ(Nᴄᴄ = 2 + 1, 𝒟ʰ)","Mahmoud et al. [10]","hₖ(tₖ-h, Nᴄᴄ = 0, 𝒟ʰ)","hₖ(tₖ-h, Nᴄᴄ = 0 + 5‡, 𝒟ʰ)","Brandes et al. [21]","hₖ(tₖ-h, Nᴄᴄ = 2 + 1, 𝒟ʰᵉ)"],"range":["#000000","#44a044","#0000ff","#9966cc","#c8b88a","#ff8000","#ff0000"]},"legend":{"orient":"none","legendX":148,"legendY":224,"title":null,"symbolType":"M-5,0H5","symbolSize":100,"symbolStrokeWidth":2.4,"symbolOffset":20,"labelOffset":24,"labelFont":"DejaVu Serif","labelFontSize":18,"labelColor":"#000000","labelLimit":500,"rowPadding":18,"padding":11,"strokeColor":"#000000","fillColor":"#ffffff","direction":"vertical"}}}},
{"data":{"name":"b"},"mark":{"type":"line","interpolate":"monotone","strokeWidth":2.2,"clip":true},"encoding":{"color":{"datum":"hₖʳ(Nᴄᴄ = 2 + 1, 𝒟ʰ)","type":"nominal"}}},
{"data":{"name":"c"},"mark":{"type":"line","interpolate":"monotone","strokeWidth":2.2,"clip":true},"encoding":{"color":{"datum":"Mahmoud et al. [10]","type":"nominal"}}},
{"data":{"name":"d"},"mark":{"type":"line","interpolate":"monotone","strokeWidth":2.4,"clip":true},"encoding":{"color":{"datum":"hₖ(tₖ-h, Nᴄᴄ = 0, 𝒟ʰ)","type":"nominal"}}},
{"data":{"name":"e"},"mark":{"type":"line","interpolate":"monotone","strokeWidth":2.8,"clip":true},"encoding":{"color":{"datum":"hₖ(tₖ-h, Nᴄᴄ = 0 + 5‡, 𝒟ʰ)","type":"nominal"}}},
{"data":{"name":"f"},"mark":{"type":"line","interpolate":"monotone","strokeWidth":2.2,"clip":true},"encoding":{"color":{"datum":"Brandes et al. [21]","type":"nominal"}}},
{"data":{"name":"g"},"mark":{"type":"line","interpolate":"monotone","strokeWidth":2.4,"clip":true},"encoding":{"color":{"datum":"hₖ(tₖ-h, Nᴄᴄ = 2 + 1, 𝒟ʰᵉ)","type":"nominal"}}}
]
}
